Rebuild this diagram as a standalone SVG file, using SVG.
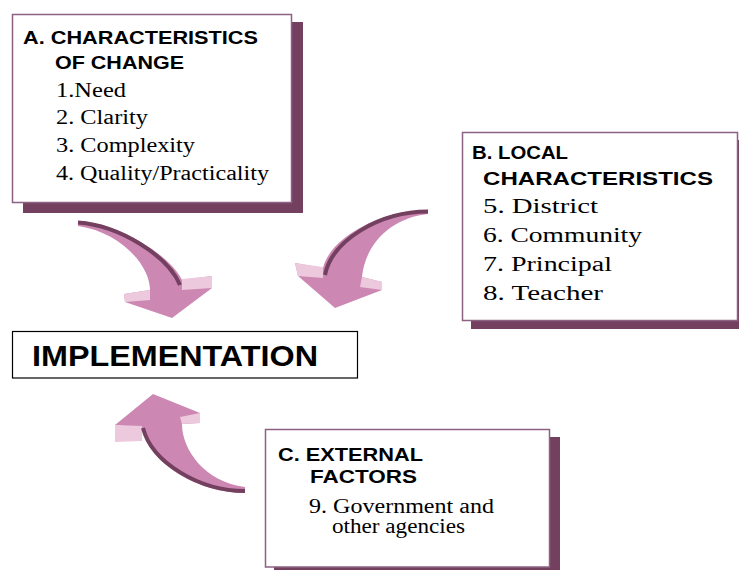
<svg xmlns="http://www.w3.org/2000/svg" width="739" height="570" viewBox="0 0 739 570">
<style>
.shadow{fill:#74405f}
.box{fill:#ffffff;stroke:#8c6283;stroke-width:1.5}
.impl{fill:#ffffff;stroke:#000000;stroke-width:1.2}
.hd{font-family:"Liberation Sans",Arial,sans-serif;font-weight:bold;font-size:19px;fill:#000}
.it{font-family:"Liberation Serif","Times New Roman",serif;font-size:20px;fill:#000}
.big{font-family:"Liberation Sans",Arial,sans-serif;font-weight:bold;font-size:29px;fill:#000}
.body{fill:#cc88b3}
.light{fill:#edc9dd}
.edge{fill:none;stroke:#74405f;stroke-width:4}
</style>
<rect width="739" height="570" fill="#ffffff"/>

<g id="connectors">
  <g id="arrow-A">
    <path class="body" d="M78,221 C120,224 170,255 182,280 L212,276 L212,288 L172,318 L125,302 L124,294 L150,290 C150,265 120,232 78,226 Z"/>
    <polygon class="light" points="124,294 150,290 150,300 125,302"/>
    <polygon class="light" points="182,279 212,276 212,288 182,290"/>
    <path class="edge" d="M78,222.5 C120,225.5 168,256 180,285"/>
  </g>
  <g id="arrow-B">
    <path class="body" d="M428,210 C380,210 330,238 323,268 L295,263 L298,276 L335,308 L382,290 L382,282 L362,277 C365,245 390,218 428,214 Z"/>
    <polygon class="light" points="295,263 323,267 323,278 298,276"/>
    <polygon class="light" points="362,277 382,282 382,290 360,287"/>
    <path class="edge" d="M428,211.5 C380,211.5 332,240 325,275"/>
  </g>
  <g id="arrow-C">
    <path class="body" d="M153,394 L200,413 L200,423 L182,424 C182,450 205,482 245,487 L245,493 C200,493 150,465 142,428 L115,425 Z"/>
    <polygon class="light" points="115,425 142,426 142,441 115,442"/>
    <polygon class="light" points="180,417 200,413 200,423 182,424"/>
    <path class="edge" d="M245,491 C200,491 152,463 143,428"/>
  </g>
</g>

<g id="node-A">
  <rect class="shadow" x="23" y="22" width="280" height="191"/>
  <rect class="box" x="12.5" y="14.5" width="279" height="188"/>
  <text class="hd" x="23" y="44" textLength="235" lengthAdjust="spacingAndGlyphs">A. CHARACTERISTICS</text>
  <text class="hd" x="55" y="69" textLength="129" lengthAdjust="spacingAndGlyphs">OF CHANGE</text>
  <text class="it" x="56" y="97" textLength="70" lengthAdjust="spacingAndGlyphs">1.Need</text>
  <text class="it" x="56" y="124" textLength="92" lengthAdjust="spacingAndGlyphs">2. Clarity</text>
  <text class="it" x="56" y="152" textLength="139" lengthAdjust="spacingAndGlyphs">3. Complexity</text>
  <text class="it" x="56" y="180" textLength="213" lengthAdjust="spacingAndGlyphs">4. Quality/Practicality</text>
</g>

<g id="node-B">
  <rect class="shadow" x="471" y="140" width="276" height="189"/>
  <rect class="box" x="462.5" y="132.5" width="275" height="188"/>
  <text class="hd" x="472" y="159" textLength="96" lengthAdjust="spacingAndGlyphs">B. LOCAL</text>
  <text class="hd" x="483" y="185" textLength="230" lengthAdjust="spacingAndGlyphs">CHARACTERISTICS</text>
  <text class="it" x="483" y="213" textLength="115" lengthAdjust="spacingAndGlyphs">5. District</text>
  <text class="it" x="483" y="242" textLength="159" lengthAdjust="spacingAndGlyphs">6. Community</text>
  <text class="it" x="483" y="271" textLength="129" lengthAdjust="spacingAndGlyphs">7. Principal</text>
  <text class="it" x="483" y="300" textLength="120" lengthAdjust="spacingAndGlyphs">8. Teacher</text>
</g>

<g id="node-implementation">
  <rect class="impl" x="12.5" y="331.5" width="345" height="46.5"/>
  <text class="big" x="32" y="366" textLength="286" lengthAdjust="spacingAndGlyphs">IMPLEMENTATION</text>
</g>

<g id="node-C">
  <rect class="shadow" x="274" y="437" width="286" height="140"/>
  <rect class="box" x="265.5" y="429.5" width="284" height="137.5"/>
  <text class="hd" x="278" y="461" textLength="145" lengthAdjust="spacingAndGlyphs">C. EXTERNAL</text>
  <text class="hd" x="310" y="483" textLength="107" lengthAdjust="spacingAndGlyphs">FACTORS</text>
  <text class="it" x="309" y="513" textLength="185" lengthAdjust="spacingAndGlyphs">9. Government and</text>
  <text class="it" x="332" y="533" textLength="133" lengthAdjust="spacingAndGlyphs">other agencies</text>
</g>
</svg>
